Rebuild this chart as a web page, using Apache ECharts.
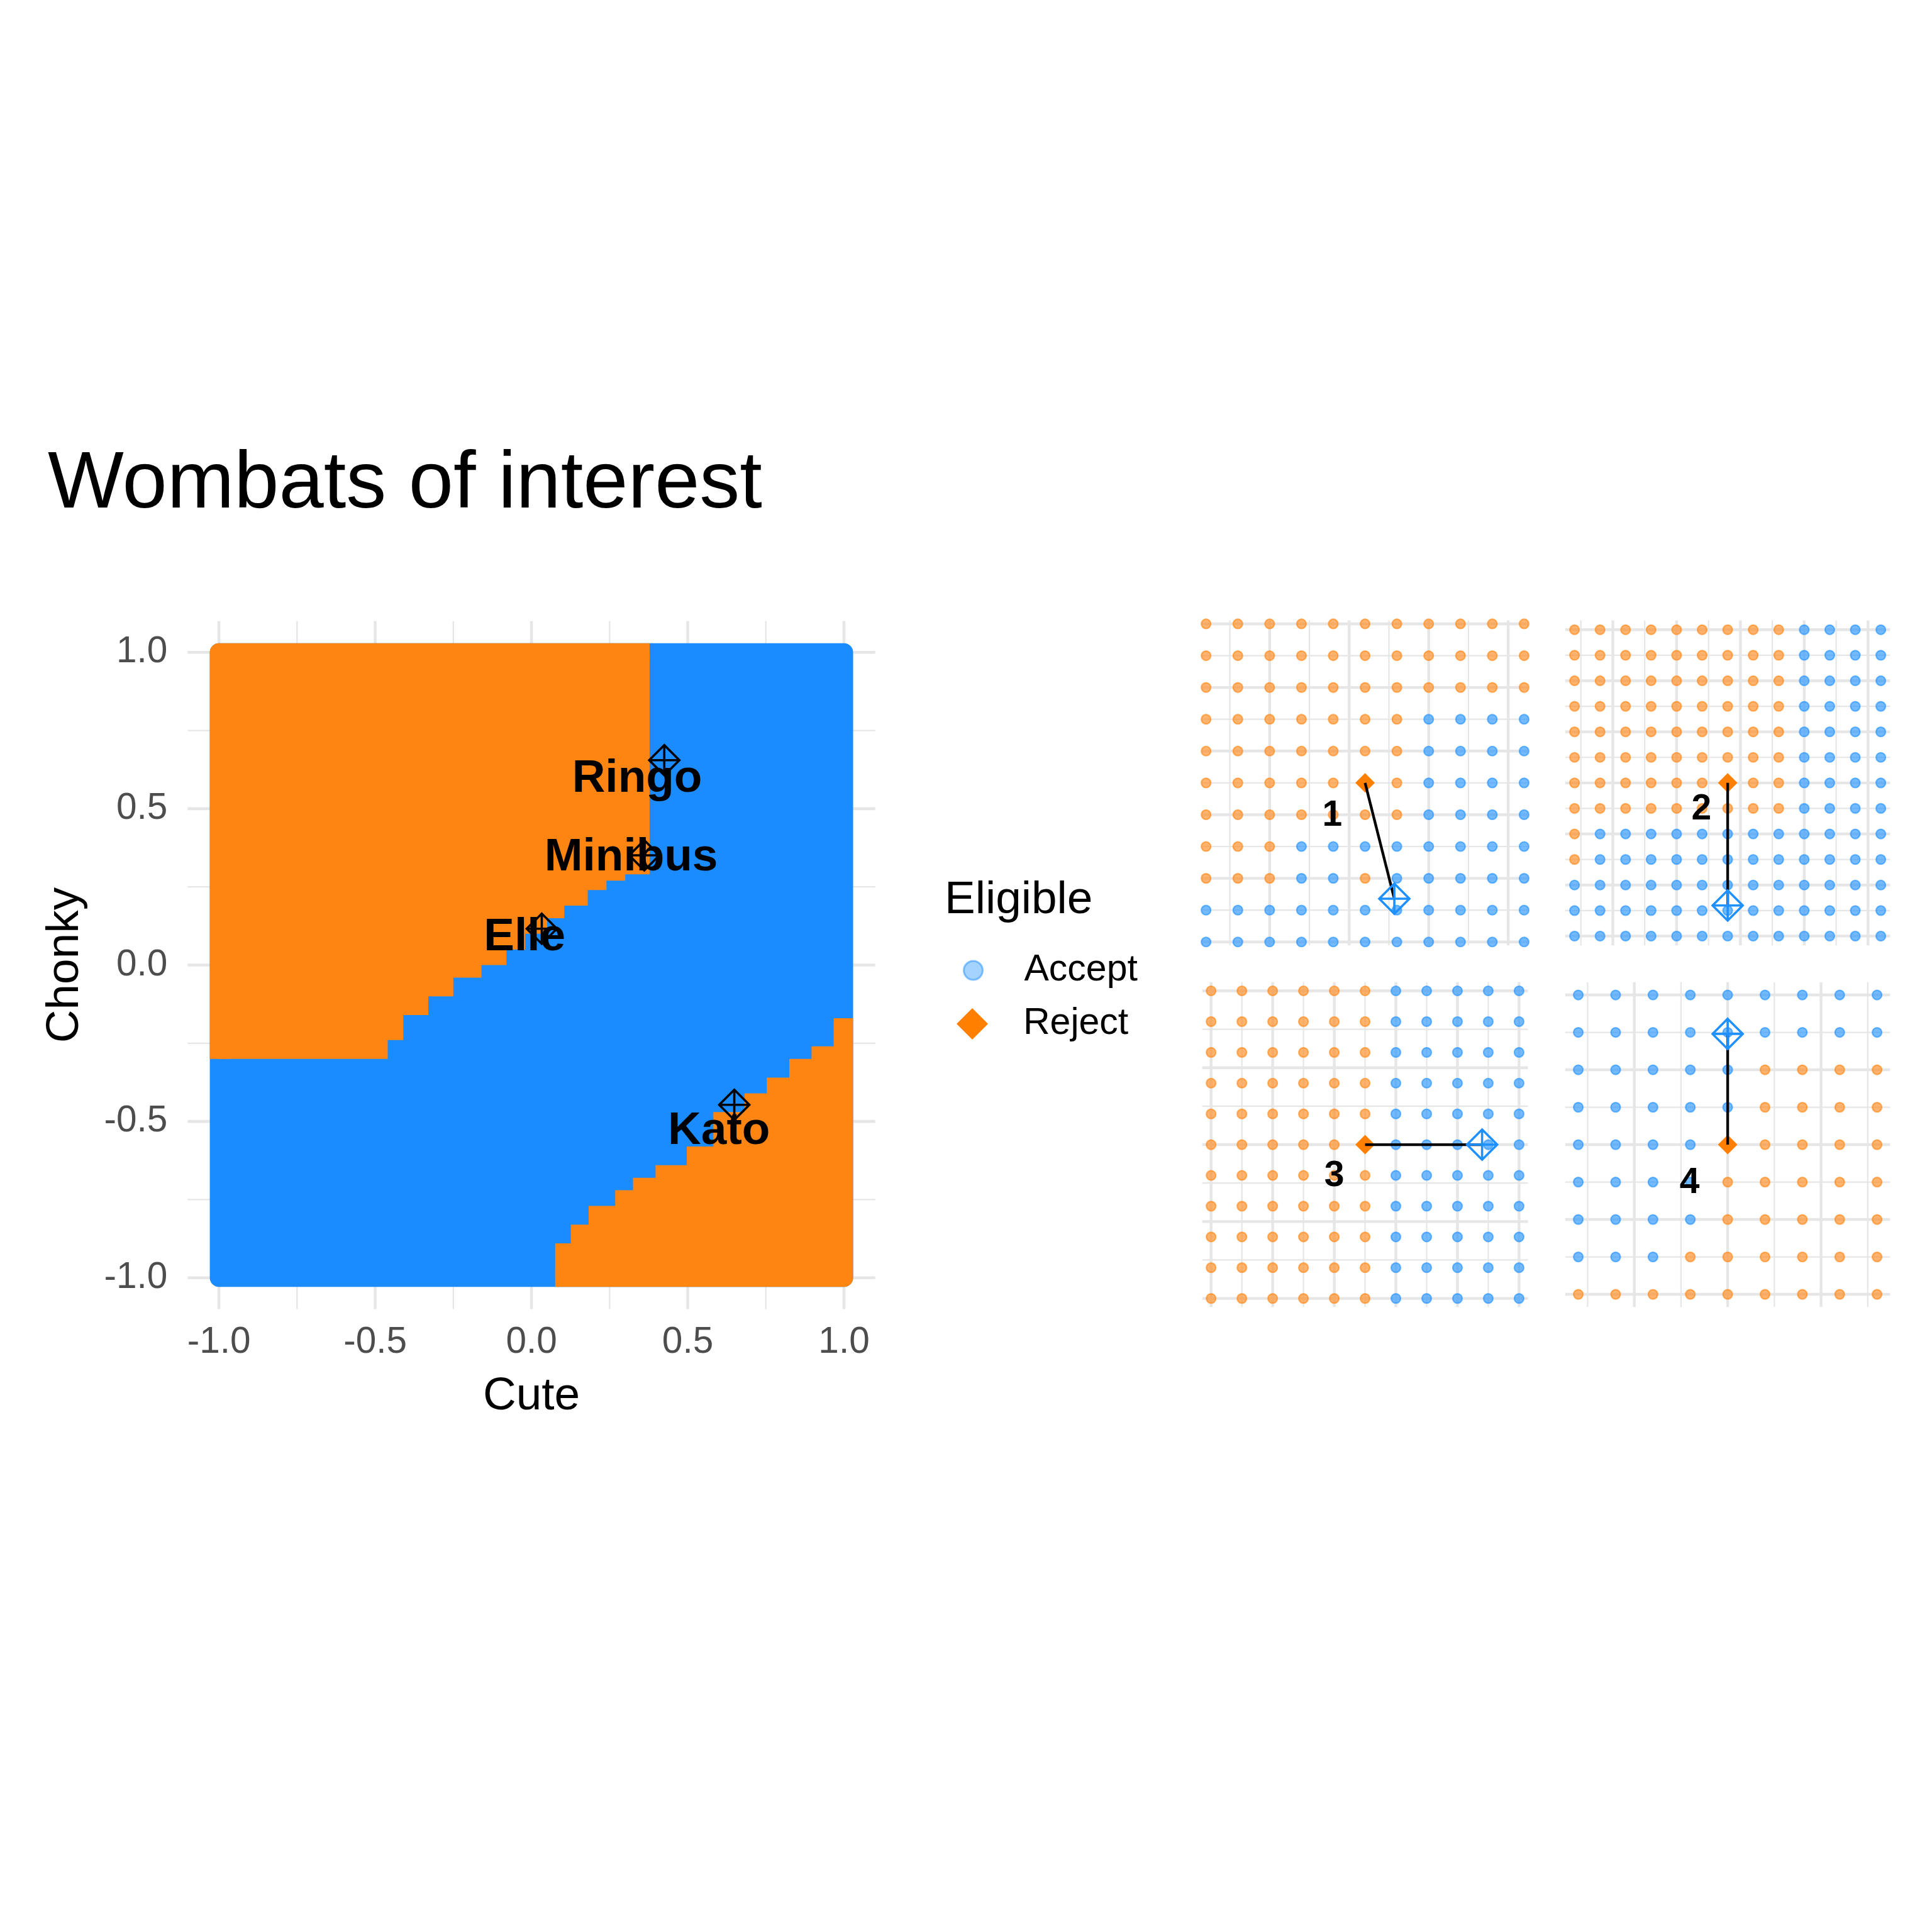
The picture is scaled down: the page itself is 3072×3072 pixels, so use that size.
<!DOCTYPE html>
<html>
<head>
<meta charset="utf-8">
<script src="https://cdn.jsdelivr.net/npm/echarts@6/dist/echarts.min.js"></script>
<style>html,body{margin:0;padding:0;background:#fff}#chart{width:3072px;height:3072px}</style>
</head>
<body>
<div id="chart"></div>
<script>
// ================= DATA =================
// Main panel
const mainTicks = [-1, -0.5, 0, 0.5, 1];
const mainMinorTicks = [-0.75, -0.25, 0.25, 0.75];

// Accept region (whole sampled square)
const acceptCute   = [-1, 1, 1, -1];
const acceptChonky = [-1, -1, 1, 1];
// Reject region, upper-left (staircase)
const rejectUpCute   = [-1, -1, 0.378, 0.378, 0.30, 0.30, 0.24, 0.24, 0.18, 0.18, 0.105, 0.105, 0.05, 0.05, -0.02, -0.02, -0.08, -0.08, -0.16, -0.16, -0.25, -0.25, -0.33, -0.33, -0.41, -0.41, -0.46, -0.46];
const rejectUpChonky = [-0.30, 1, 1, 0.29, 0.29, 0.27, 0.27, 0.24, 0.24, 0.19, 0.19, 0.15, 0.15, 0.10, 0.10, 0.05, 0.05, 0.00, 0.00, -0.04, -0.04, -0.10, -0.10, -0.16, -0.16, -0.24, -0.24, -0.30];
// Reject region, lower-right
const rejectLowCute   = [0.076, 1, 1, 0.967, 0.967, 0.896, 0.896, 0.825, 0.825, 0.753, 0.753, 0.682, 0.682, 0.582, 0.582, 0.497, 0.497, 0.397, 0.397, 0.325, 0.325, 0.268, 0.268, 0.183, 0.183, 0.126, 0.126, 0.076];
const rejectLowChonky = [-1, -1, -0.17, -0.17, -0.26, -0.26, -0.30, -0.30, -0.36, -0.36, -0.41, -0.41, -0.47, -0.47, -0.58, -0.58, -0.64, -0.64, -0.68, -0.68, -0.72, -0.72, -0.77, -0.77, -0.83, -0.83, -0.89, -0.89];

// Wombats of interest
const wombatNames  = ['Ringo', 'Minibus', 'Elle', 'Kato'];
const wombatCute   = [0.425, 0.361, 0.033, 0.649];
const wombatChonky = [0.655, 0.351, 0.116, -0.447];
const labelCute    = [0.338, 0.319, -0.022, 0.600];
const labelChonky  = [0.595, 0.344, 0.088, -0.532];

// Panel 1
const p1Cute   = [-0.04, -0.02, 0, 0.02, 0.04, 0.06, 0.08, 0.10, 0.12, 0.14, 0.16];
const p1Chonky = [0.2, 0.175, 0.15, 0.125, 0.1, 0.075, 0.05, 0.025, 0, -0.025, -0.05];
const p1Eligible = [
  'RRRRRRRRRRR','RRRRRRRRRRR','RRRRRRRRRRR','RRRRRRRAAAA','RRRRRRRAAAA','RRRRRRRAAAA',
  'RRRRRRRAAAA','RRRAAAAAAAA','RRRAARAAAAA','AAAAAAAAAAA','AAAAAAAAAAA'];
const p1Original = [0.06, 0.075];
const p1Counterfactual = [0.0784, -0.016];
const p1LabelAt = [0.0394, 0.0493];
const p1MajorX = [0, 0.05, 0.10, 0.15], p1MinorX = [-0.025, 0.025, 0.075, 0.125];
const p1MajorY = [0.2, 0.15, 0.1, 0.05, 0, -0.05], p1MinorY = [0.175, 0.125, 0.075, 0.025, -0.025];

// Panel 2
const p2Cute   = [0.32, 0.34, 0.36, 0.38, 0.40, 0.42, 0.44, 0.46, 0.48, 0.50, 0.52, 0.54, 0.56];
const p2Chonky = [0.70, 0.675, 0.65, 0.625, 0.60, 0.575, 0.55, 0.525, 0.50, 0.475, 0.45, 0.425, 0.40];
const p2Eligible = [
  'RRRRRRRRRAAAA','RRRRRRRRRAAAA','RRRRRRRRRAAAA','RRRRRRRRRAAAA','RRRRRRRRRAAAA',
  'RRRRRRRRRAAAA','RRRRRRRRRAAAA','RRRRRRRRRAAAA','RAAAAAAAAAAAA','RAAAAAAAAAAAA',
  'AAAAAAAAAAAAA','AAAAAAAAAAAAA','AAAAAAAAAAAAA'];
const p2Original = [0.44, 0.55];
const p2Counterfactual = [0.44, 0.43];
const p2LabelAt = [0.4194, 0.524];
const p2MajorX = [0.35, 0.40, 0.45, 0.50, 0.55], p2MinorX = [0.325, 0.375, 0.425, 0.475, 0.525];
const p2MajorY = [0.70, 0.65, 0.60, 0.55, 0.50, 0.45, 0.40], p2MinorY = [0.675, 0.625, 0.575, 0.525, 0.475, 0.425];

// Panel 3
const p3Cute   = [0.10, 0.125, 0.15, 0.175, 0.20, 0.225, 0.25, 0.275, 0.30, 0.325, 0.35];
const p3Chonky = [-0.40, -0.42, -0.44, -0.46, -0.48, -0.50, -0.52, -0.54, -0.56, -0.58, -0.60];
const p3Eligible = [
  'RRRRRRAAAAA','RRRRRRAAAAA','RRRRRRAAAAA','RRRRRRAAAAA','RRRRRRAAAAA','RRRRRRAAAAA',
  'RRRRRRAAAAA','RRRRRRAAAAA','RRRRRRAAAAA','RRRRRRAAAAA','RRRRRRAAAAA'];
const p3Original = [0.225, -0.50];
const p3Counterfactual = [0.32, -0.50];
const p3LabelAt = [0.20, -0.5204];
const p3MajorX = [0.10, 0.15, 0.20, 0.25, 0.30, 0.35], p3MinorX = [0.125, 0.175, 0.225, 0.275, 0.325];
const p3MajorY = [-0.40, -0.45, -0.50, -0.55, -0.60], p3MinorY = [-0.425, -0.475, -0.525, -0.575];

// Panel 4
const p4Cute   = [0.57, 0.59, 0.61, 0.63, 0.65, 0.67, 0.69, 0.71, 0.73];
const p4Chonky = [-0.35, -0.375, -0.40, -0.425, -0.45, -0.475, -0.50, -0.525, -0.55];
const p4Eligible = [
  'AAAAAAAAA','AAAAAAAAA','AAAAARRRR','AAAAARRRR','AAAARRRRR',
  'AAAARRRRR','AAAARRRRR','AAARRRRRR','RRRRRRRRR'];
const p4Original = [0.65, -0.45];
const p4Counterfactual = [0.65, -0.376];
const p4LabelAt = [0.6296, -0.4756];
const p4MajorX = [0.60, 0.65, 0.70], p4MinorX = [0.575, 0.625, 0.675, 0.725];
const p4MajorY = [-0.35, -0.40, -0.45, -0.50, -0.55], p4MinorY = [-0.375, -0.425, -0.475, -0.525];

const panelNames = ['1', '2', '3', '4'];

// ================= STYLE / LAYOUT =================
const FONT = "'Liberation Sans', Arial, Helvetica, sans-serif";
const BLUE = '#1A8CFF', ORANGE = '#FE8512';
const BLUE_PT = 'rgba(30,144,255,0.62)', ORANGE_PT = 'rgba(255,133,18,0.62)';
const GRID_COLOR = '#E6E6E6';
const MAJOR_W = 4.4, MINOR_W = 2.2;
const DIAMOND_PLUS = 'path://M0,-10L10,0L0,10L-10,0ZM0,-10L0,10M-10,0L10,0';

const panels = [
  { cute: p1Cute, chonky: p1Chonky, elig: p1Eligible, orig: p1Original, cf: p1Counterfactual, lab: p1LabelAt,
    majX: p1MajorX, minX: p1MinorX, majY: p1MajorY, minY: p1MinorY,
    grid: { left: 1911.6, top: 986.5, width: 517.9, height: 516.7 }, xr: [-0.0424, 0.1624], yr: [-0.0527, 0.2027] },
  { cute: p2Cute, chonky: p2Chonky, elig: p2Eligible, orig: p2Original, cf: p2Counterfactual, lab: p2LabelAt,
    majX: p2MajorX, minX: p2MinorX, majY: p2MajorY, minY: p2MinorY,
    grid: { left: 2488.8, top: 986.5, width: 516.6, height: 516.7 }, xr: [0.3127, 0.5673], yr: [0.3909, 0.7091] },
  { cute: p3Cute, chonky: p3Chonky, elig: p3Eligible, orig: p3Original, cf: p3Counterfactual, lab: p3LabelAt,
    majX: p3MajorX, minX: p3MinorX, majY: p3MajorY, minY: p3MinorY,
    grid: { left: 1911.6, top: 1561.8, width: 517.9, height: 516.5 }, xr: [0.0928, 0.3572], yr: [-0.6056, -0.3944] },
  { cute: p4Cute, chonky: p4Chonky, elig: p4Eligible, orig: p4Original, cf: p4Counterfactual, lab: p4LabelAt,
    majX: p4MajorX, minX: p4MinorX, majY: p4MajorY, minY: p4MinorY,
    grid: { left: 2488.8, top: 1561.8, width: 516.6, height: 516.5 }, xr: [0.5630, 0.7370], yr: [-0.5585, -0.3415] }
];

// Panel grid lines drawn through the axis scales (custom series, below everything)
function gridLines(idx, majX, minX, majY, minY, majW, minW) {
  const specs = [].concat(
    minX.map(v => ['x', v, minW]), minY.map(v => ['y', v, minW]),
    majX.map(v => ['x', v, majW]), majY.map(v => ['y', v, majW]));
  return {
    type: 'custom', xAxisIndex: idx, yAxisIndex: idx, z: 1, silent: true,
    data: [[0, 0]],
    renderItem: function (params, api) {
      const cs = params.coordSys;
      const children = specs.map(s => {
        if (s[0] === 'x') {
          const x = api.coord([s[1], 0])[0];
          return { type: 'line', shape: { x1: x, y1: cs.y, x2: x, y2: cs.y + cs.height },
            style: { stroke: GRID_COLOR, lineWidth: s[2] } };
        }
        const y = api.coord([0, s[1]])[1];
        return { type: 'line', shape: { x1: cs.x, y1: y, x2: cs.x + cs.width, y2: y },
          style: { stroke: GRID_COLOR, lineWidth: s[2] } };
      });
      return { type: 'group', children: children };
    }
  };
}

function regionRenderer(regions, color) {
  return function (params, api) {
    const reg = regions[params.dataIndex];
    const pts = reg.cute.map((c, i) => api.coord([c, reg.chonky[i]]));
    const edge = reg.outer.map(i => pts[i]);
    return {
      type: 'group', children: [
        { type: 'polygon', shape: { points: pts }, style: { fill: color } },
        { type: 'polyline', shape: { points: edge },
          style: { stroke: color, fill: 'none', lineWidth: 29, lineJoin: 'round', lineCap: 'butt' } }
      ]
    };
  };
}

const acceptRegions = [{ cute: acceptCute, chonky: acceptChonky, outer: [0, 1, 2, 3, 0, 1] }];
const rejectRegions = [
  { cute: rejectUpCute, chonky: rejectUpChonky, outer: [0, 1, 2] },
  { cute: rejectLowCute, chonky: rejectLowChonky, outer: [0, 1, 2] }
];

function panelPoints(p, want) {
  const out = [];
  p.elig.forEach((row, r) => row.split('').forEach((c, k) => { if (c === want) out.push([p.cute[k], p.chonky[r]]); }));
  return out;
}

// ================= OPTION =================
const grids = [{ left: 298.4, top: 987.5, width: 1093.3, height: 1094 }].concat(panels.map(p => p.grid));

const xAxes = [{
  gridIndex: 0, type: 'value', min: -1.1, max: 1.1,
  splitLine: { show: false }, axisLine: { show: false }, axisTick: { show: false },
  axisLabel: { customValues: mainTicks, formatter: v => Number(v).toFixed(1), fontSize: 58.5, lineHeight: 58.5,
    color: '#4D4D4D', margin: 24, fontFamily: FONT },
  name: 'Cute', nameLocation: 'middle', nameGap: 103,
  nameTextStyle: { fontSize: 73, lineHeight: 73, color: '#000', fontFamily: FONT }
}].concat(panels.map((p, i) => ({ gridIndex: i + 1, type: 'value', min: p.xr[0], max: p.xr[1], show: false })));

const yAxes = [{
  gridIndex: 0, type: 'value', min: -1.1, max: 1.1,
  splitLine: { show: false }, axisLine: { show: false }, axisTick: { show: false },
  axisLabel: { customValues: mainTicks, formatter: v => Number(v).toFixed(1), fontSize: 58.5, lineHeight: 58.5,
    color: '#4D4D4D', margin: 32, fontFamily: FONT },
  name: 'Chonky', nameLocation: 'middle', nameGap: 158,
  nameTextStyle: { fontSize: 73, lineHeight: 73, color: '#000', fontFamily: FONT }
}].concat(panels.map((p, i) => ({ gridIndex: i + 1, type: 'value', min: p.yr[0], max: p.yr[1], show: false })));

const series = [
  gridLines(0, mainTicks, mainMinorTicks, mainTicks, mainMinorTicks, 4.6, 2.3),
  { type: 'custom', name: 'Accept', xAxisIndex: 0, yAxisIndex: 0, z: 2, silent: true,
    renderItem: regionRenderer(acceptRegions, BLUE), data: acceptRegions.map(() => [0, 0]) },
  { type: 'custom', name: 'Reject', xAxisIndex: 0, yAxisIndex: 0, z: 3, silent: true,
    renderItem: regionRenderer(rejectRegions, ORANGE), data: rejectRegions.map(() => [0, 0]) },
  { type: 'scatter', xAxisIndex: 0, yAxisIndex: 0, z: 4, silent: true,
    data: wombatCute.map((c, i) => [c, wombatChonky[i]]),
    symbol: DIAMOND_PLUS, symbolSize: 48,
    itemStyle: { color: 'none', borderColor: '#000', borderWidth: 3.6, opacity: 1 } },
  { type: 'scatter', xAxisIndex: 0, yAxisIndex: 0, z: 5, silent: true,
    data: labelCute.map((c, i) => [c, labelChonky[i], wombatNames[i]]),
    symbolSize: 1, itemStyle: { color: 'rgba(0,0,0,0)', opacity: 1 },
    label: { show: true, position: 'inside', formatter: p => p.data[2], fontSize: 73, fontWeight: 'bold',
      color: '#000', opacity: 1, fontFamily: FONT, textBorderWidth: 0 } }
];

panels.forEach((p, i) => {
  const g = i + 1;
  series.push(gridLines(g, p.majX, p.minX, p.majY, p.minY, MAJOR_W, MINOR_W));
  series.push({ type: 'scatter', name: 'Accept', xAxisIndex: g, yAxisIndex: g, z: 2, silent: true, clip: false,
    data: panelPoints(p, 'A'), symbolSize: 15,
    itemStyle: { color: BLUE_PT, borderColor: BLUE_PT, borderWidth: 2.2, opacity: 1 } });
  series.push({ type: 'scatter', name: 'Reject', xAxisIndex: g, yAxisIndex: g, z: 2, silent: true, clip: false,
    data: panelPoints(p, 'R'), symbolSize: 15,
    itemStyle: { color: ORANGE_PT, borderColor: ORANGE_PT, borderWidth: 2.2, opacity: 1 } });
  series.push({ type: 'scatter', xAxisIndex: g, yAxisIndex: g, z: 3, silent: true,
    data: [p.orig], symbol: 'diamond', symbolSize: 31, itemStyle: { color: '#FF8000', opacity: 1 } });
  series.push({ type: 'line', xAxisIndex: g, yAxisIndex: g, z: 4, silent: true, symbol: 'none',
    data: [p.orig, p.cf], lineStyle: { color: '#000', width: 4.3, opacity: 1 } });
  series.push({ type: 'scatter', xAxisIndex: g, yAxisIndex: g, z: 5, silent: true,
    data: [p.cf], symbol: DIAMOND_PLUS, symbolSize: 48,
    itemStyle: { color: 'none', borderColor: '#1E90FF', borderWidth: 3.6, opacity: 1 } });
  series.push({ type: 'scatter', xAxisIndex: g, yAxisIndex: g, z: 6, silent: true,
    data: [[p.lab[0], p.lab[1], panelNames[i]]], symbolSize: 1, itemStyle: { color: 'rgba(0,0,0,0)', opacity: 1 },
    label: { show: true, position: 'inside', formatter: q => q.data[2], fontSize: 57, fontWeight: 'bold',
      color: '#000', opacity: 1, fontFamily: FONT, textBorderWidth: 0 } });
});

const option = {
  animation: false,
  backgroundColor: '#ffffff',
  textStyle: { fontFamily: FONT },
  title: { text: 'Wombats of interest', left: 76, top: 708, padding: 0,
    textStyle: { fontSize: 128, lineHeight: 128, fontWeight: 'normal', color: '#000', fontFamily: FONT } },
  legend: [
    { data: [{ name: 'Accept', icon: 'circle',
        itemStyle: { color: 'rgba(30,144,255,0.4)', borderColor: 'rgba(30,144,255,0.5)', borderWidth: 3, opacity: 1 } }],
      left: 1531, top: 1513.5, padding: 0, itemWidth: 30, itemHeight: 30, selectedMode: false,
      textStyle: { fontSize: 59, lineHeight: 59, color: '#000', fontFamily: FONT, padding: [0, 0, 0, 61] } },
    { data: [{ name: 'Reject', icon: 'diamond', itemStyle: { color: '#FF8000', borderWidth: 0, opacity: 1 } }],
      left: 1521, top: 1598.5, padding: 0, itemWidth: 50, itemHeight: 50, selectedMode: false,
      textStyle: { fontSize: 59, lineHeight: 59, color: '#000', fontFamily: FONT, padding: [0, 0, 0, 51] } }
  ],
  graphic: [
    { type: 'text', x: 1502, y: 1431.7, silent: true,
      style: { text: 'Eligible', fontSize: 73, fontFamily: FONT, fill: '#000', align: 'left', verticalAlign: 'middle' } }
  ],
  grid: grids,
  xAxis: xAxes,
  yAxis: yAxes,
  series: series
};

const chart = echarts.init(document.getElementById('chart'), null, { renderer: 'canvas' });
chart.setOption(option);
</script>
</body>
</html>
